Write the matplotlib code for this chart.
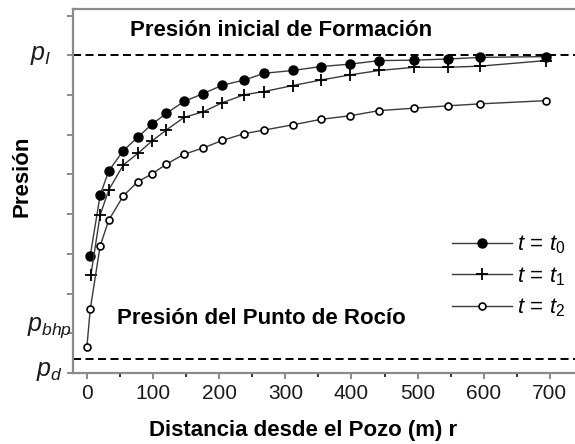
import numpy as np
import matplotlib
matplotlib.use("Agg")
import matplotlib.pyplot as plt
from matplotlib.ticker import MultipleLocator, NullFormatter

plt.rcParams['font.family'] = ['Liberation Sans', 'DejaVu Sans']
plt.rcParams['mathtext.fontset'] = 'custom'
plt.rcParams['mathtext.rm'] = 'Liberation Sans'
plt.rcParams['mathtext.it'] = 'Liberation Sans:italic'
plt.rcParams['lines.scale_dashes'] = False

# distancia desde el pozo (m)
r_t0 = [5, 20, 33, 55, 77, 98, 120, 147, 176, 205, 238, 268, 311, 354, 398, 442, 494, 546, 595, 694]
p_t0 = [2.95, 4.48, 5.09, 5.60, 5.94, 6.26, 6.54, 6.84, 7.04, 7.25, 7.38, 7.55, 7.62, 7.72, 7.78, 7.87, 7.88, 7.91, 7.95, 7.97]

r_t1 = [6, 20, 33, 55, 77, 98, 120, 147, 176, 205, 238, 268, 311, 354, 398, 442, 494, 546, 595, 694]
p_t1 = [2.47, 3.98, 4.61, 5.24, 5.53, 5.84, 6.12, 6.44, 6.58, 6.81, 7.01, 7.09, 7.24, 7.38, 7.51, 7.62, 7.70, 7.70, 7.73, 7.87]

r_t2 = [0, 5, 20, 33, 55, 77, 98, 120, 147, 176, 205, 238, 268, 311, 354, 398, 442, 494, 546, 595, 694]
p_t2 = [0.66, 1.60, 3.20, 3.85, 4.46, 4.82, 5.01, 5.26, 5.51, 5.67, 5.86, 6.03, 6.12, 6.25, 6.39, 6.48, 6.61, 6.67, 6.73, 6.78, 6.86]

p_inicial = 8.0
p_rocio = 0.35
p_bhp = 1.15

fig = plt.figure(figsize=(5.75, 4.44), dpi=100)
ax = fig.add_axes([0.127, 0.16, 0.873, 0.8198])

lc = '#3a3a3a'
ax.plot(r_t0, p_t0, '-o', color=lc, lw=1.0, ms=6.5, mfc='black', mec='black', label=r'$t\,=\,t_0$', zorder=3)
ax.plot(r_t1, p_t1, '-+', color=lc, lw=1.0, ms=8, mew=1.3, mec='black', label=r'$t\,=\,t_1$', zorder=3)
ax.plot(r_t2, p_t2, '-o', color=lc, lw=1.0, ms=5, mfc='white', mec='black', mew=1.2, label=r'$t\,=\,t_2$', zorder=3)

ax.axhline(p_inicial, color='black', lw=1.4, dashes=(5.8, 3.2), zorder=2)
ax.axhline(p_rocio, color='black', lw=1.4, dashes=(5.8, 3.2), zorder=2)

ax.set_xlim(-21, 738)
ax.set_ylim(0, 9.17)
ax.xaxis.set_major_locator(MultipleLocator(100))
ax.xaxis.set_minor_locator(MultipleLocator(50))
ax.yaxis.set_major_locator(MultipleLocator(1))
ax.yaxis.set_major_formatter(NullFormatter())

spc = '#8a8a8a'
for s in ['left', 'bottom', 'top']:
    ax.spines[s].set_color(spc)
    ax.spines[s].set_linewidth(1.6)
ax.spines['right'].set_visible(False)
ax.tick_params(axis='both', which='major', direction='out', length=4, width=1.4, color=spc,
               labelsize=15, labelcolor='#1a1a1a', pad=4)
ax.tick_params(axis='x', which='minor', direction='out', length=3, width=1.4, color='#333333')

ax.set_xlabel('Distancia desde el Pozo (m) r', fontsize=16, fontweight='bold')
ax.xaxis.set_label_coords(0.458, -0.13)
ax.set_ylabel('Presión', fontsize=16, fontweight='bold')
ax.yaxis.set_label_coords(-0.08, 0.54)

ax.text(0.114, 8.64, 'Presión inicial de Formación', fontsize=16, fontweight='bold',
        transform=ax.get_yaxis_transform(), va='center', ha='left')
ax.text(0.087, 1.38, 'Presión del Punto de Rocío', fontsize=16, fontweight='bold',
        transform=ax.get_yaxis_transform(), va='center', ha='left')

lab = dict(xycoords=('axes fraction', 'data'), textcoords='offset pixels', ha='right',
           va='center', fontsize=18, color='#1a1a1a', annotation_clip=False)
ax.annotate(r'$p_I$', xy=(0, p_inicial), xytext=(-22, 0), **lab)
ax.annotate(r'$p_{bhp}$', xy=(0, p_bhp), xytext=(-1, 0), **lab)
ax.annotate(r'$p_d$', xy=(0, 0.05), xytext=(-10, 0), **lab)

ax.legend(loc='upper left', bbox_to_anchor=(0.733, 0.413), frameon=False, fontsize=16,
          handlelength=2.7, handletextpad=0.2, labelspacing=0.4, borderpad=0)

fig.savefig('out.png', dpi=100)
